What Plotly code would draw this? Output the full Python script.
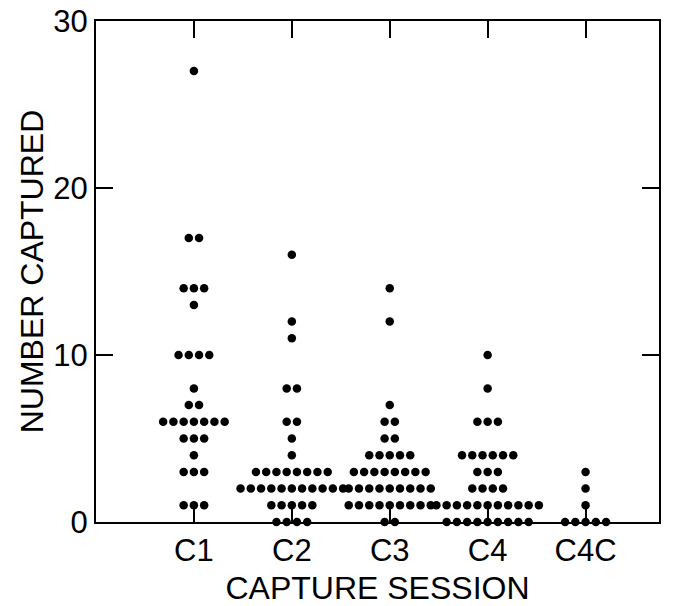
import plotly.graph_objects as go
from collections import Counter

sessions = ["C1", "C2", "C3", "C4", "C4C"]

c1 = [27, 17, 17, 14, 14, 14, 13, 10, 10, 10, 10, 8, 7, 7,
      6, 6, 6, 6, 6, 6, 6, 5, 5, 5, 4, 3, 3, 3, 1, 1, 1]
c2 = [16, 12, 11, 8, 8, 6, 6, 5, 4,
      3, 3, 3, 3, 3, 3, 3, 3,
      2, 2, 2, 2, 2, 2, 2, 2, 2, 2, 2,
      1, 1, 1, 1, 1,
      0, 0, 0, 0]
c3 = [14, 12, 7, 6, 6, 5, 5,
      4, 4, 4, 4, 4,
      3, 3, 3, 3, 3, 3, 3, 3,
      2, 2, 2, 2, 2, 2, 2, 2, 2,
      1, 1, 1, 1, 1, 1, 1, 1, 1,
      0, 0]
c4 = [10, 8, 6, 6, 6,
      4, 4, 4, 4, 4, 4,
      3, 3, 3,
      2, 2, 2, 2,
      1, 1, 1, 1, 1, 1, 1, 1, 1, 1, 1,
      0, 0, 0, 0, 0, 0, 0, 0, 0]
c4c = [3, 2, 1, 0, 0, 0, 0, 0]

series = [c1, c2, c3, c4, c4c]
y_ticks = [0, 10, 20, 30]

DOT_STEP = 0.1047  # horizontal spacing between stacked dots (x-axis units)

xs, ys = [], []
for k, vals in enumerate(series):
    center = k + 1
    counts = Counter(vals)
    for v, n in counts.items():
        for i in range(n):
            xs.append(center + (i - (n - 1) / 2) * DOT_STEP)
            ys.append(v)

FONT = "Arial, Liberation Sans, sans-serif"

fig = go.Figure(go.Scatter(
    x=xs, y=ys, mode="markers",
    marker=dict(color="black", size=8.5, line=dict(width=0)),
    cliponaxis=False, showlegend=False, hoverinfo="skip",
))

# the page body adds an 8px offset; margins compensate for it
fig.update_layout(
    width=679, height=606,
    margin=dict(l=88, r=28, t=13, b=92),
    paper_bgcolor="white", plot_bgcolor="white",
    font=dict(family=FONT, color="black", size=31),
)
fig.update_xaxes(
    range=[0, 5.75], tickvals=[1, 2, 3, 4, 5], ticktext=sessions,
    ticks="inside", ticklen=17, tickwidth=1.5, tickcolor="black",
    showline=True, linecolor="black", linewidth=2, mirror="ticks",
    showgrid=False, zeroline=False, automargin=False,
    ticklabeloverflow="allow",
    tickfont=dict(size=31, family=FONT),
    title=dict(text="CAPTURE SESSION", font=dict(size=32, family=FONT), standoff=9),
)
fig.update_yaxes(
    range=[0, 30], tickvals=y_ticks,
    ticks="inside", ticklen=17, tickwidth=1.5, tickcolor="black",
    showline=True, linecolor="black", linewidth=2, mirror="ticks",
    showgrid=False, zeroline=False, automargin=False,
    ticklabeloverflow="allow",
    tickfont=dict(size=31, family=FONT),
    title=dict(text="NUMBER CAPTURED", font=dict(size=32, family=FONT), standoff=0),
)

fig.write_html("out.html")
